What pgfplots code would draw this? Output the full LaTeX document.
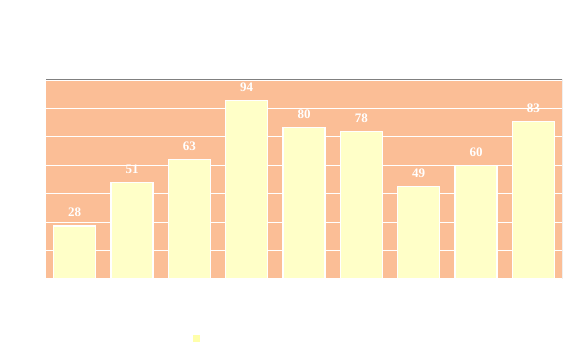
\documentclass[border=0pt]{standalone}
\usepackage{pgfplots}
\pgfplotsset{compat=1.18}
\usepackage{fontspec}
\setmainfont{Liberation Serif}
\definecolor{bgc}{RGB}{251,190,150}
\definecolor{barc}{RGB}{255,255,200}
\definecolor{legc}{RGB}{255,255,170}
\begin{document}
\begin{tikzpicture}[x=1bp,y=1bp]
\useasboundingbox[fill=white] (0,0) rectangle (575,359);
\begin{axis}[
  at={(46bp,80bp)}, anchor=south west,
  scale only axis, width=516bp, height=199bp,
  xmin=-0.5, xmax=8.5, ymin=0, ymax=105,
  ybar, bar width=0.73,
  axis background/.style={fill=bgc},
  axis line style={draw=none},
  ytick={0,15,...,105}, xtick=\empty,
  yticklabels={}, major tick length=0pt,
  ymajorgrids, grid style={white, line width=1.2bp},
  nodes near coords,
  /pgf/number format/assume math mode=true,
  every node near coord/.append style={white, font=\fontsize{13bp}{13bp}\selectfont\bfseries, yshift=5bp},
]
\addplot[fill=barc, draw=white, line width=1.2bp] coordinates {
(0,28) (1,51) (2,63) (3,94) (4,80) (5,78) (6,49) (7,60) (8,83)};
\draw[gray, line width=1bp] (rel axis cs:0,1) -- (rel axis cs:1,1) -- (rel axis cs:1,0);
\end{axis}
\fill[legc] (193,17) rectangle (200,24);
\end{tikzpicture}
\end{document}
